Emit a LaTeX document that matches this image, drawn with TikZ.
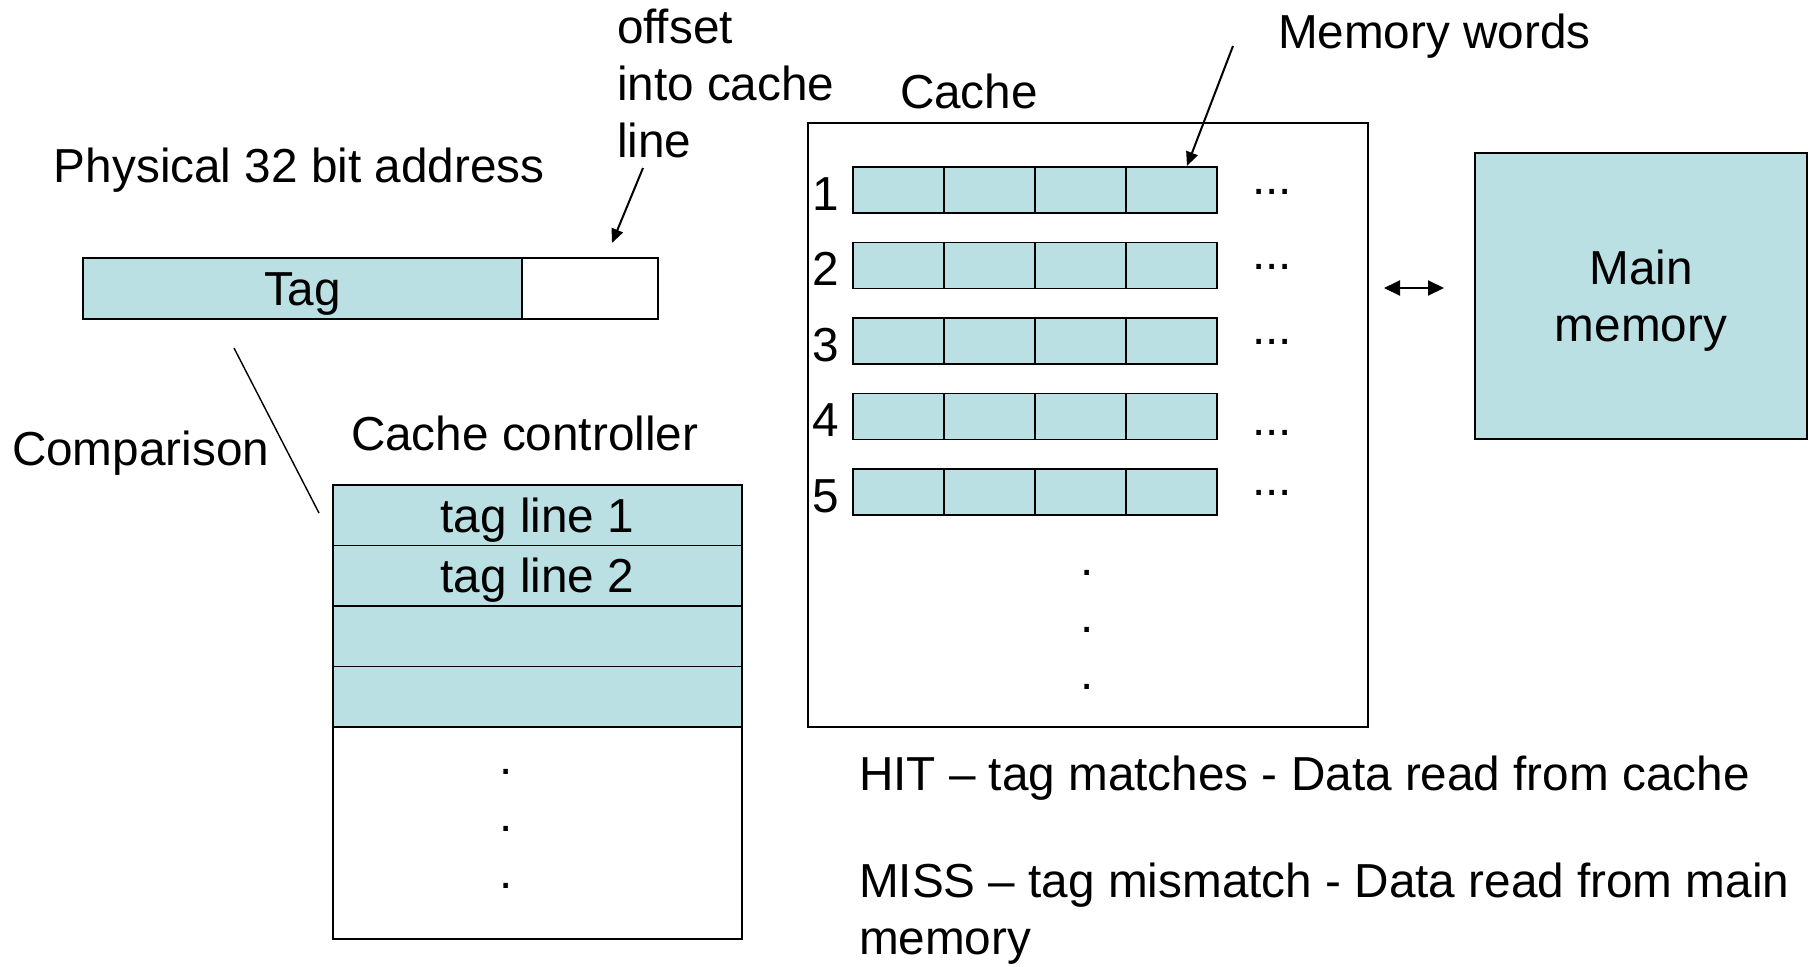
\documentclass[tikz,border=0pt]{standalone}
\usepackage{fontspec}
\setmainfont{Liberation Sans}
\usetikzlibrary{arrows.meta}
\definecolor{cellfill}{RGB}{187,224,227}
\begin{document}
\begin{tikzpicture}[x=0.5pt,y=-0.5pt,
  every node/.style={inner sep=0pt, outer sep=0pt, font=\fontsize{23.85pt}{28.5pt}\selectfont},
  txt/.style={anchor=base west},
  box/.style={draw=black, line width=0.9pt, anchor=north west},
  cell/.style={box, fill=cellfill},
  arr/.style={-{Triangle[length=7pt,width=6pt]}, line width=1pt},
  dblarr/.style={{Triangle[length=8pt,width=7.5pt]}-{Triangle[length=8pt,width=7.5pt]}, line width=1pt},
  lbl/.style={text height=17.2pt, text depth=0pt}]
\useasboundingbox (0,0) rectangle (1812,966);

% address (base anchor of a multi-line node = last line)
\node[txt, align=left] (offtxt) at (617,157) {offset\\into cache\\line};
\node[txt] (phys) at (54,182) {Physical 32 bit address};
\node[cell, lbl, minimum width=219.5pt, minimum height=30.5pt] (tag) at (83,258) {Tag};
\node[box, fill=white, minimum width=68pt, minimum height=30.5pt] (off) at (522,258) {};
\coordinate (offs) at (643,168);
\coordinate (offe) at (612,243);
\draw[arr] (offs) -- (offe);

% comparison
\node[txt] (cmp) at (12,465) {Comparison};
\coordinate (c1) at (234,348);
\coordinate (c2) at (319,513);
\draw[line width=0.7pt] (c1) -- (c2);

% cache controller
\node[txt] (cclbl) at (351,450) {Cache controller};
\node[cell, lbl, minimum width=204.5pt, minimum height=30.25pt] (cc1) at (333,485) {tag line 1};
\node[cell, lbl, minimum width=204.5pt, minimum height=30.25pt] (cc2) at (333,545.5) {tag line 2};
\node[cell, minimum width=204.5pt, minimum height=30.25pt] (cc3) at (333,606) {};
\node[cell, minimum width=204.5pt, minimum height=30.25pt] (cc4) at (333,666.5) {};
\node[box, fill=white, minimum width=204.5pt, minimum height=106pt] (ccrest) at (333,727) {};
\node[anchor=base, align=center] (ccdots) at (506,888) {.\\.\\.};

% cache
\node[txt] (cachelbl) at (900,108) {Cache};
\node[box, minimum width=280pt, minimum height=302pt] (cache) at (808,123) {};
\foreach \i in {1,...,5}{
  \foreach \j in {0,...,3}{
    \node[cell, minimum width=45.5pt, minimum height=23pt] (r\i c\j) at ({853+91*\j},{167+75.5*(\i-1)}) {};
  }
  \node[txt] (n\i) at (812,{210+75.5*(\i-1)}) {\i};
}
\foreach \i/\y in {1/194.5,2/269.5,3/344.5,4/435.5,5/495.5}{
  \node[anchor=base] (e\i) at (1272,\y) {...};
}
\node[anchor=base, align=center] (cdots) at (1087,689) {.\\.\\.};

% memory words
\node[txt] (mw) at (1278,48) {Memory words};
\coordinate (mws) at (1233,46);
\coordinate (mwe) at (1187,166);
\draw[arr] (mws) -- (mwe);

% main memory
\coordinate (da1) at (1384,288);
\coordinate (da2) at (1444,288);
\draw[dblarr] (da1) -- (da2);
\node[cell, minimum width=166pt, minimum height=143pt] (mm) at (1475,153) {};
\node[anchor=base, align=center] (mmtxt) at (mm.center |- 0,341) {Main\\memory};

% hit / miss
\node[txt] (hit) at (859,790) {HIT – tag matches - Data read from cache};
\node[txt, align=left] (miss) at (859,954) {MISS – tag mismatch - Data read from main\\memory};
\end{tikzpicture}
\end{document}
